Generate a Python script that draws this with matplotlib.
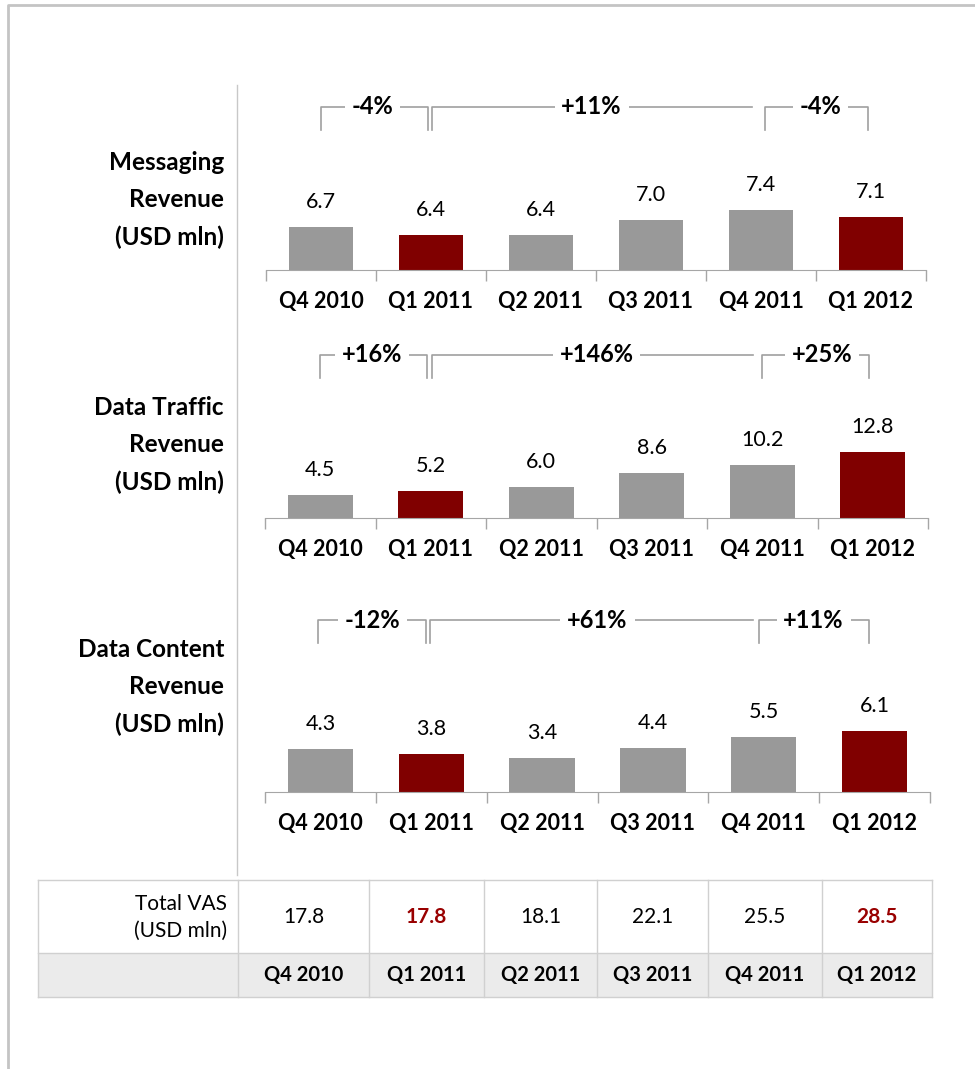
import matplotlib
matplotlib.use('Agg')
import matplotlib.pyplot as plt
from matplotlib.patches import Rectangle
from matplotlib.transforms import blended_transform_factory

plt.rcParams['font.family'] = ['Lato', 'DejaVu Sans']

quarters = ['Q4 2010', 'Q1 2011', 'Q2 2011', 'Q3 2011', 'Q4 2011', 'Q1 2012']
messaging = [6.7, 6.4, 6.4, 7.0, 7.4, 7.1]
data_traffic = [4.5, 5.2, 6.0, 8.6, 10.2, 12.8]
data_content = [4.3, 3.8, 3.4, 4.4, 5.5, 6.1]
total_vas = [17.8, 17.8, 18.1, 22.1, 25.5, 28.5]
highlight = [False, True, False, False, False, True]

messaging_growth = ['-4%', '+11%', '-4%']
traffic_growth = ['+16%', '+146%', '+25%']
content_growth = ['-12%', '+61%', '+11%']

GREY = '#999999'
RED = '#800000'
LINE = '#a6a6a6'
W, H = 975, 1069

fig = plt.figure(figsize=(W / 100, H / 100), dpi=100)

# background layer in pixel units: frame, divider and the table
bg = fig.add_axes([0, 0, 1, 1], zorder=0)
bg.set_xlim(0, W)
bg.set_ylim(H, 0)
bg.axis('off')
bg.plot([8, 8, W], [H, 5, 5], color='#c4c4c4', lw=2, solid_capstyle='butt')
bg.plot([237, 237], [85, 875], color='#c8c8c8', lw=1)


def panel(top_px, base_px, left_px, right_px, values, ymin, px_per_unit,
          title, title_y, growth, brk):
    height = base_px - top_px
    ax = fig.add_axes([left_px / W, 1 - base_px / H,
                       (right_px - left_px) / W, height / H], zorder=2)
    ax.patch.set_alpha(0)
    colors = [RED if h else GREY for h in highlight]
    x = list(range(len(values)))
    ax.bar(x, [v - ymin for v in values], bottom=ymin, width=0.59, color=colors)
    ax.set_xlim(-0.5, 5.5)
    ax.set_ylim(ymin, ymin + height / px_per_unit)
    for s in ['top', 'right', 'left']:
        ax.spines[s].set_visible(False)
    ax.spines['bottom'].set_color(LINE)
    ax.set_yticks([])
    ax.set_xticks(x)
    ax.set_xticklabels(quarters, fontsize=15.5, fontweight='bold')
    ax.tick_params(axis='x', which='major', length=0, pad=15)
    ax.set_xticks([i - 0.5 for i in range(7)], minor=True)
    ax.tick_params(axis='x', which='minor', length=8, color=LINE, width=1)
    for i, v in enumerate(values):
        ax.annotate(f'{v:.1f}', (i, v), xytext=(0, 25), textcoords='offset pixels',
                    ha='center', va='center', fontsize=15.5)

    # growth brackets, x in categories and y in pixels above the baseline
    tr = blended_transform_factory(ax.transData, ax.transAxes)
    y_line = brk['y'] / height
    y_foot = brk['foot'] / height
    for (x0, x1, right_leg, xt), label in zip(brk['spans'], growth):
        xs = [x0, x0, x1]
        ys = [y_foot, y_line, y_line]
        if right_leg:
            xs.append(x1)
            ys.append(y_foot)
        ax.plot(xs, ys, color='#a0a0a0', lw=1.2, transform=tr, clip_on=False)
        ax.text(xt, y_line, label, transform=tr, ha='center', va='center',
                fontsize=17, fontweight='bold',
                bbox=dict(facecolor='white', edgecolor='none', pad=5))

    fig.text(224 / W, 1 - title_y / H, title, ha='right', va='center',
             fontsize=17.5, fontweight='bold', linespacing=1.75)
    return ax


panel(100, 270, 266, 926, messaging, 5.0, 25.0,
      'Messaging\nRevenue\n(USD mln)', 200, messaging_growth,
      dict(y=163, foot=140,
           spans=[(0.0, 0.97, True, 0.47), (1.01, 3.92, False, 2.46),
                  (4.04, 4.97, True, 4.54)]))

panel(348, 518, 265, 928, data_traffic, 0.0, 5.18,
      'Data Traffic\nRevenue\n(USD mln)', 445, traffic_growth,
      dict(y=163, foot=140,
           spans=[(0.0, 0.97, True, 0.47), (1.01, 3.92, False, 2.5),
                  (4.0, 4.97, True, 4.54)]))

panel(612, 792, 265, 930, data_content, 0.0, 10.0,
      'Data Content\nRevenue\n(USD mln)', 687, content_growth,
      dict(y=172, foot=149,
           spans=[(-0.02, 0.95, True, 0.47), (0.99, 3.9, False, 2.5),
                  (3.96, 4.95, True, 4.45)]))

# table of total VAS revenue
col_edges = [38, 238, 369, 484, 597, 708, 822, 932]
row_top, row_mid, row_bot = 880, 953, 997
bg.add_patch(Rectangle((col_edges[0], row_mid), col_edges[-1] - col_edges[0],
                       row_bot - row_mid, facecolor='#ebebeb', edgecolor='none'))
for yy in [row_top, row_mid, row_bot]:
    bg.plot([col_edges[0], col_edges[-1]], [yy, yy], color='#d0d0d0', lw=1)
for xx in col_edges:
    bg.plot([xx, xx], [row_top, row_bot], color='#d0d0d0', lw=1)
bg.text(227, 904, 'Total VAS', ha='right', va='center', fontsize=15)
bg.text(227, 931, '(USD mln)', ha='right', va='center', fontsize=15)
for i, (q, v) in enumerate(zip(quarters, total_vas)):
    cx = (col_edges[i + 1] + col_edges[i + 2]) / 2
    if highlight[i]:
        bg.text(cx, 917, f'{v:.1f}', ha='center', va='center', fontsize=15,
                fontweight='bold', color='#990000')
    else:
        bg.text(cx, 917, f'{v:.1f}', ha='center', va='center', fontsize=15)
    bg.text(cx, 975, q, ha='center', va='center', fontsize=14.5, fontweight='bold')

fig.savefig('out.png', dpi=100)
